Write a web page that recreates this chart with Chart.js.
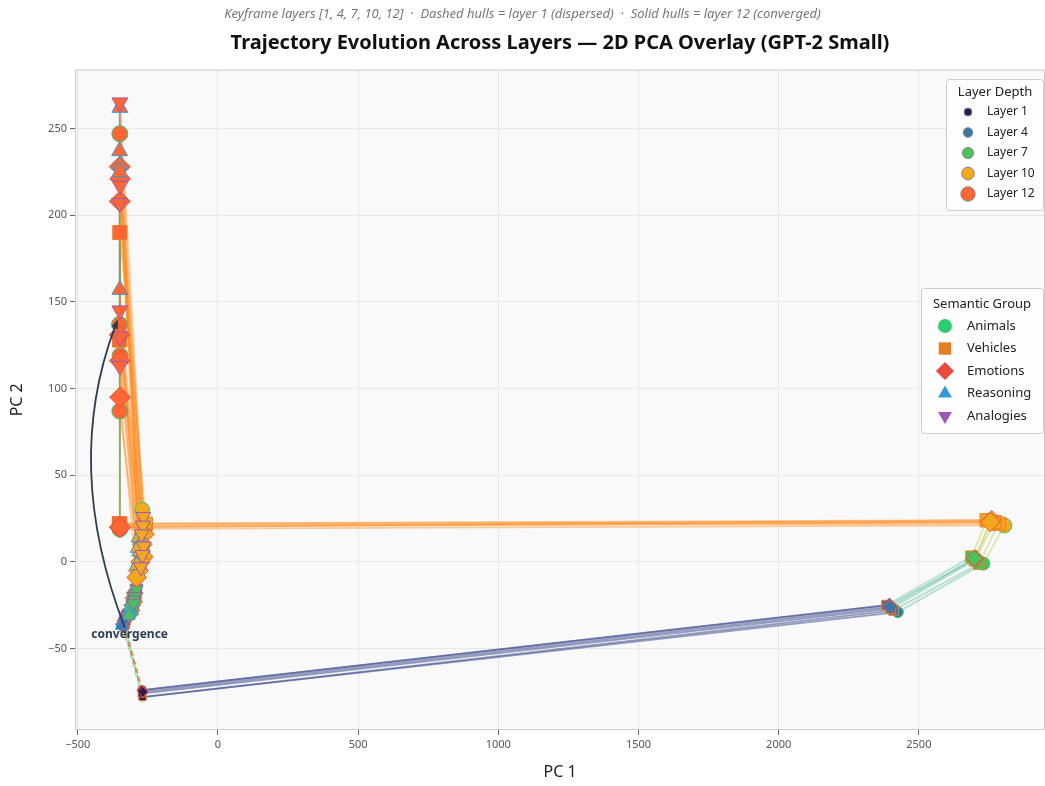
<!DOCTYPE html>
<html lang="en">
<head>
<meta charset="UTF-8">
<title>Trajectory Evolution Across Layers</title>
<script src="https://cdn.jsdelivr.net/npm/chart.js@4.4.1/dist/chart.umd.min.js"></script>
<style>
  html, body { margin: 0; padding: 0; background: #fff; }
  #wrap { width: 1045px; height: 786px; }
</style>
</head>
<body>
<div id="wrap"><canvas id="chart" width="1045" height="786"></canvas></div>
<script>
// ---- data ----
const layerNames = ['Layer 1', 'Layer 4', 'Layer 7', 'Layer 10', 'Layer 12'];
const groupNames = ['Animals', 'Vehicles', 'Emotions', 'Reasoning', 'Analogies'];

// group of each token (0 Animals, 1 Vehicles, 2 Emotions, 3 Reasoning, 4 Analogies)
const tokenGroup = [0, 1, 1, 1, 2, 2,
                    0, 0, 0, 0, 1, 1, 2, 2, 2, 2, 2, 2,
                    3, 3, 3, 3, 3, 4, 4, 4, 4, 4, 4];

// PCA coordinates per keyframe layer (one entry per token)
const l1X = [-270, -271, -269, -272, -270, -268,
             -336, -332, -339, -334, -337, -331, -338, -335, -333, -340, -336, -334,
             -341, -337, -339, -335, -342, -333, -336, -338, -332, -340, -334];
const l1Y = [-78, -74, -78, -76, -74, -75,
             -37, -36, -38, -35, -36, -37, -38, -36, -37, -36, -35, -38,
             -37, -35, -36, -38, -36, -36, -37, -35, -38, -37, -36];
const l4X = [2425, 2385, 2410, 2400, 2395, 2398,
             -328, -333, -322, -337, -330, -335, -326, -331, -324, -338, -334, -340,
             -344, -340, -342, -336, -346, -325, -329, -321, -332, -327, -335];
const l4Y = [-29, -25, -28, -27, -25, -26,
             -32, -34, -30, -35, -33, -35, -31, -33, -30, -36, -34, -36,
             -36, -34, -35, -33, -37, -30, -32, -29, -33, -31, -34];
const l7X = [2730, 2688, 2715, 2700, 2702, 2698,
             -300, -306, -296, -310, -298, -304, -297, -301, -299, -306, -309, -313,
             -315, -311, -313, -308, -318, -291, -294, -290, -296, -299, -302];
const l7Y = [-1, 3, -1, 1, 2, 2,
             -22, -26, -19, -28, -20, -24, -18, -21, -23, -25, -28, -30,
             -29, -27, -26, -24, -31, -15, -18, -16, -20, -22, -24];
const l10X = [2805, 2742, 2785, 2770, 2760, 2755,
              -270, -276, -269, -281, -257, -262, -262, -270, -266, -276, -283, -290,
              -283, -279, -281, -286, -289, -266, -268, -272, -265, -270, -275];
const l10Y = [21, 24, 22, 23, 24, 23,
              30, 12, 6, -2, 22, 18, 16, 10, 3, 0, -5, -9,
              14, 10, 6, 8, -2, 26, 21, 16, 9, 4, -3];
const l12X = [-350, -350, -351, -352, -350, -349,
              -350, -351, -349, -350, -350, -351, -350, -349, -350, -351, -350, -349,
              -350, -351, -349, -350, -350, -350, -349, -351, -350, -349, -350];
const l12Y = [19, 22, 21, 22, 20, 20,
              247, 137, 119, 87, 190, 128, 228, 221, 208, 131, 116, 95,
              262, 237, 229, 225, 157, 265, 217, 207, 145, 130, 113];

const xTicks = [-500, 0, 500, 1000, 1500, 2000, 2500];
const yTicks = [-50, 0, 50, 100, 150, 200, 250];

// annotation arrow (start, bend control, end) and its label
const arrowStart = [-332, -38];
const arrowCtrl = [-555, 55];
const arrowEnd = [-357, 140];
const arrowLabel = 'convergence';
const arrowLabelPos = [-315, -42];

// ---- styles ----
const layerColors = ['#2b1a4f', '#3a76a6', '#4cc35a', '#f5a71e', '#ff6633'];
const layerSizes = [4, 5.5, 6.5, 7.5, 8];
const groupColors = ['#2ecc71', '#e67e22', '#e74c3c', '#3498db', '#9b59b6'];
const groupShapes = ['circle', 'rect', 'rectRot', 'triangle', 'triangle'];
const groupRotation = [0, 0, 0, 0, 180];
const shapeScale = [1, 1.25, 1.3, 1.15, 1.15];
const segColors = ['rgba(60,75,140,0.55)', 'rgba(95,190,160,0.45)',
                   'rgba(200,210,100,0.5)', 'rgba(255,140,30,0.45)'];

const layerX = [l1X, l4X, l7X, l10X, l12X];
const layerY = [l1Y, l4Y, l7Y, l10Y, l12Y];

function hexA(hex, a) {
    const n = parseInt(hex.slice(1), 16);
    return `rgba(${n >> 16},${(n >> 8) & 255},${n & 255},${a})`;
}

// convex hull (monotone chain), closed
function hull(pts) {
    const p = pts.slice().sort((a, b) => a.x - b.x || a.y - b.y);
    const cross = (o, a, b) => (a.x - o.x) * (b.y - o.y) - (a.y - o.y) * (b.x - o.x);
    const lower = [], upper = [];
    for (const q of p) {
        while (lower.length >= 2 && cross(lower[lower.length - 2], lower[lower.length - 1], q) <= 0) lower.pop();
        lower.push(q);
    }
    for (let i = p.length - 1; i >= 0; i--) {
        const q = p[i];
        while (upper.length >= 2 && cross(upper[upper.length - 2], upper[upper.length - 1], q) <= 0) upper.pop();
        upper.push(q);
    }
    const h = lower.slice(0, -1).concat(upper.slice(0, -1));
    h.push(h[0]);
    return h;
}

const datasets = [];

// hulls: dashed for layer 1, solid for layer 12
groupNames.forEach((g, gi) => {
    [0, 4].forEach(li => {
        const pts = [];
        tokenGroup.forEach((tg, t) => { if (tg === gi) pts.push({ x: layerX[li][t], y: layerY[li][t] }); });
        datasets.push({
            data: hull(pts),
            showLine: true,
            pointRadius: 0,
            borderColor: hexA(groupColors[gi], 0.55),
            borderWidth: 1.5,
            borderDash: li === 0 ? [5, 4] : [],
            order: 30
        });
    });
});

// trajectories
tokenGroup.forEach((g, t) => {
    datasets.push({
        data: layerX.map((xs, li) => ({ x: xs[t], y: layerY[li][t] })),
        showLine: true,
        pointRadius: 0,
        borderWidth: 1.8,
        borderColor: segColors[0],
        segment: { borderColor: ctx => segColors[ctx.p0DataIndex] },
        order: 20
    });
});

// markers: face = layer colour, edge = group colour, shape = group
layerNames.forEach((name, li) => {
    datasets.push({
        data: tokenGroup.map((g, t) => ({ x: layerX[li][t], y: layerY[li][t] })),
        pointStyle: tokenGroup.map(g => groupShapes[g]),
        pointRotation: tokenGroup.map(g => groupRotation[g]),
        pointRadius: tokenGroup.map(g => layerSizes[li] * shapeScale[g]),
        pointBackgroundColor: layerColors[li],
        pointBorderColor: tokenGroup.map(g => groupColors[g]),
        pointBorderWidth: 1,
        order: 10 - li
    });
});

const plotBg = {
    id: 'plotBg',
    beforeDraw(chart) {
        const { ctx, chartArea: a } = chart;
        ctx.save();
        ctx.fillStyle = '#f9f9f9';
        ctx.fillRect(a.left, a.top, a.right - a.left, a.bottom - a.top);
        ctx.restore();
    },
    afterDraw(chart) {
        const { ctx, chartArea: a } = chart;
        ctx.save();
        ctx.strokeStyle = '#cccccc';
        ctx.lineWidth = 1;
        ctx.strokeRect(a.left + 0.5, a.top + 0.5, a.right - a.left - 1, a.bottom - a.top - 1);
        ctx.restore();
    }
};

const arrowPlugin = {
    id: 'arrow',
    afterDatasetsDraw(chart) {
        const { ctx, scales: { x, y } } = chart;
        const p0 = [x.getPixelForValue(arrowStart[0]), y.getPixelForValue(arrowStart[1])];
        const c = [x.getPixelForValue(arrowCtrl[0]), y.getPixelForValue(arrowCtrl[1])];
        const p1 = [x.getPixelForValue(arrowEnd[0]), y.getPixelForValue(arrowEnd[1])];
        ctx.save();
        ctx.strokeStyle = '#2c3e50';
        ctx.fillStyle = '#2c3e50';
        ctx.lineWidth = 1.8;
        const ang = Math.atan2(p1[1] - c[1], p1[0] - c[0]);
        const back = [p1[0] - 8 * Math.cos(ang), p1[1] - 8 * Math.sin(ang)];
        ctx.beginPath();
        ctx.moveTo(p0[0], p0[1]);
        ctx.quadraticCurveTo(c[0], c[1], back[0], back[1]);
        ctx.stroke();
        ctx.beginPath();
        ctx.moveTo(p1[0], p1[1]);
        ctx.lineTo(p1[0] - 10 * Math.cos(ang - 0.35), p1[1] - 10 * Math.sin(ang - 0.35));
        ctx.lineTo(p1[0] - 10 * Math.cos(ang + 0.35), p1[1] - 10 * Math.sin(ang + 0.35));
        ctx.closePath();
        ctx.fill();
        ctx.font = 'bold 12px "Noto Sans"';
        ctx.textAlign = 'center';
        ctx.textBaseline = 'middle';
        ctx.fillText(arrowLabel, x.getPixelForValue(arrowLabelPos[0]), y.getPixelForValue(arrowLabelPos[1]));
        ctx.restore();
    }
};

function legendBox(ctx, bx, by, bw, bh, title, titleX, titleY) {
    ctx.fillStyle = 'rgba(255,255,255,0.85)';
    ctx.strokeStyle = '#cccccc';
    ctx.lineWidth = 1;
    ctx.beginPath();
    ctx.roundRect(bx + 0.5, by + 0.5, bw, bh, 3);
    ctx.fill();
    ctx.stroke();
    ctx.fillStyle = '#222';
    ctx.font = '13px "Noto Sans"';
    ctx.textAlign = 'center';
    ctx.textBaseline = 'middle';
    ctx.fillText(title, titleX, titleY);
}

const legendPlugin = {
    id: 'twoLegends',
    afterDraw(chart) {
        const ctx = chart.ctx;
        ctx.save();
        // Layer Depth
        legendBox(ctx, 946, 79, 97, 131, 'Layer Depth', 995, 92);
        layerNames.forEach((name, i) => {
            const yy = 112 + i * 20.5;
            ctx.fillStyle = layerColors[i];
            ctx.strokeStyle = '#888';
            ctx.lineWidth = 1;
            Chart.helpers.drawPoint(ctx, { pointStyle: 'circle', radius: 4 + i * 0.8, borderWidth: 1 }, 968, yy);
            ctx.fillStyle = '#222';
            ctx.font = '12px "Noto Sans"';
            ctx.textAlign = 'left';
            ctx.fillText(name, 987, yy);
        });
        // Semantic Group
        legendBox(ctx, 921, 288, 122, 145, 'Semantic Group', 982, 304);
        groupNames.forEach((name, i) => {
            const yy = 326 + i * 22.5;
            ctx.fillStyle = groupColors[i];
            ctx.strokeStyle = groupColors[i];
            Chart.helpers.drawPoint(ctx, { pointStyle: groupShapes[i], rotation: groupRotation[i], radius: 7 * shapeScale[i], borderWidth: 0 }, 945, yy);
            ctx.fillStyle = '#222';
            ctx.font = '13px "Noto Sans"';
            ctx.textAlign = 'left';
            ctx.fillText(name, 967, yy);
        });
        ctx.restore();
    }
};

new Chart(document.getElementById('chart'), {
    type: 'scatter',
    data: { datasets },
    options: {
        responsive: false,
        animation: false,
        events: [],
        layout: { autoPadding: false, padding: { left: 0, right: 0, top: 0, bottom: 0 } },
        plugins: {
            legend: { display: false },
            tooltip: { enabled: false },
            title: {
                display: true,
                text: 'Keyframe layers [1, 4, 7, 10, 12]  ·  Dashed hulls = layer 1 (dispersed)  ·  Solid hulls = layer 12 (converged)',
                color: '#777',
                font: { family: '"Noto Sans"', size: 13, style: 'italic', weight: 'normal' },
                padding: { top: 6, bottom: 6 }
            },
            subtitle: {
                display: true,
                fullSize: false,
                text: 'Trajectory Evolution Across Layers — 2D PCA Overlay (GPT-2 Small)',
                color: '#111',
                font: { family: '"Noto Sans"', size: 20, weight: 'bold' },
                padding: { top: 4, bottom: 14 }
            }
        },
        scales: {
            x: {
                type: 'linear',
                min: -510,
                max: 2950,
                afterBuildTicks: s => { s.ticks = xTicks.map(v => ({ value: v })); },
                afterFit: s => { s.height = 56; s.paddingLeft = 0; s.paddingRight = 0; },
                grid: { color: '#e8e8e8', tickColor: '#666', tickLength: 5 },
                border: { display: false },
                ticks: { color: '#555', font: { family: '"Noto Sans"', size: 11 }, padding: 3, maxRotation: 0,
                         callback: v => String(v).replace('-', '\u2212') },
                title: { display: true, text: 'PC 1', color: '#222', font: { family: '"Noto Sans"', size: 16 }, padding: { top: 7 } }
            },
            y: {
                type: 'linear',
                min: -97,
                max: 284,
                afterBuildTicks: s => { s.ticks = yTicks.map(v => ({ value: v })); },
                afterFit: s => { s.width = 75; s.paddingTop = 0; s.paddingBottom = 0; },
                grid: { color: '#e8e8e8', tickColor: '#666', tickLength: 5 },
                border: { display: false },
                ticks: { color: '#555', font: { family: '"Noto Sans"', size: 11 }, padding: 3,
                         callback: v => String(v).replace('-', '\u2212') },
                title: { display: true, text: 'PC 2', color: '#222', font: { family: '"Noto Sans"', size: 16 }, padding: { top: 8, bottom: 0 } }
            }
        }
    },
    plugins: [plotBg, arrowPlugin, legendPlugin]
});
</script>
</body>
</html>
